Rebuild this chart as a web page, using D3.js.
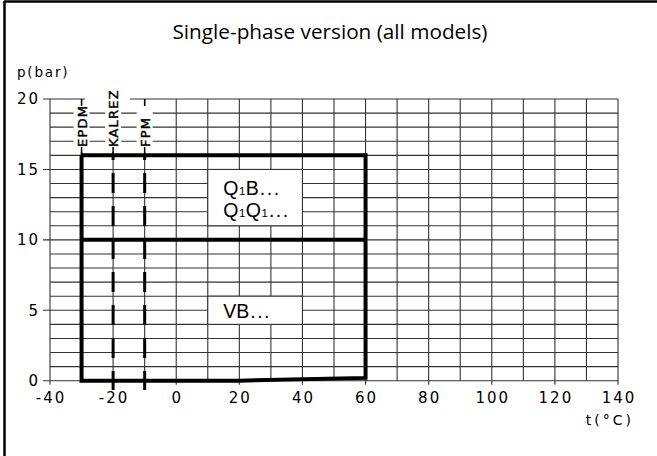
<!DOCTYPE html>
<html>
<head>
<meta charset="utf-8">
<script src="https://cdn.jsdelivr.net/npm/d3@7"></script>
<style>
  body { margin: 0; background: #fff; }
  svg { display: block; }
</style>
</head>
<body>
<svg id="chart" width="657" height="456"></svg>
<script>
// temperature / pressure ticks
var xTicks = [-40, -20, 0, 20, 40, 60, 80, 100, 120, 140];
var yTicks = [0, 5, 10, 15, 20];
var xGrid = d3.range(-40, 141, 10);
var yGrid = d3.range(0, 21, 1);

// operating envelope (t in degC, p in bar)
var envelope = [
  {t: -30, p: 16}, {t: 60, p: 16}, {t: 60, p: 0.2},
  {t: 20, p: 0}, {t: -30, p: 0}, {t: -30, p: 16}
];
var midLine = [{t: -30, p: 10}, {t: 60, p: 10}];

// seal materials and their min temperature
var materials = ["EPDM", "KALREZ", "FPM"];
var matTemp = [-30, -20, -10];

// model label boxes
var boxes = [
  {t0: 10, t1: 40, p0: 11, p1: 15, lines: [["Q", "1", "B"], ["Q", "1", "Q", "1"]]},
  {t0: 10, t1: 40, p0: 4, p1: 6, lines: [["VB"]]}
];

var svg = d3.select("#chart");
var x = d3.scaleLinear().domain([-40, 140]).range([50, 618]);
var y = d3.scaleLinear().domain([0, 20]).range([380.7, 99]);

// frame (left + top)
svg.append("line").attr("x1", 4.5).attr("x2", 4.5).attr("y1", 1).attr("y2", 456)
  .attr("stroke", "#000").attr("stroke-width", 2.5);
svg.append("line").attr("x1", 4).attr("x2", 657).attr("y1", 1.5).attr("y2", 1.5)
  .attr("stroke", "#000").attr("stroke-width", 2.5);

svg.append("text").attr("x", 330).attr("y", 39).attr("text-anchor", "middle")
  .style("font-family", "Open Sans").style("font-size", "19.5px")
  .attr("textLength", 315).attr("lengthAdjust", "spacingAndGlyphs")
  .text("Single-phase version (all models)");

// grid
var grid = svg.append("g").attr("stroke", "#333").attr("stroke-width", 1.1);
grid.selectAll("line.h").data(yGrid).enter().append("line")
  .attr("x1", function (d) { return d % 5 == 0 ? x(-40) - 7 : x(-40); })
  .attr("x2", x(140))
  .attr("y1", function (d) { return y(d); })
  .attr("y2", function (d) { return y(d); });
grid.selectAll("line.v").data(xGrid).enter().append("line")
  .attr("x1", function (d) { return x(d); })
  .attr("x2", function (d) { return x(d); })
  .attr("y1", y(20))
  .attr("y2", function (d) { return d % 20 == 0 ? y(0) + 4 : y(0); });

// axis labels
var axisFont = "DejaVu Sans";
svg.append("g").selectAll("text").data(xTicks).enter().append("text")
  .attr("x", function (d) { return x(d) + 1; })
  .attr("y", 403)
  .attr("text-anchor", "middle")
  .style("font-family", axisFont).style("font-size", "15px").style("letter-spacing", "2px")
  .text(function (d) { return d; });
svg.append("g").selectAll("text").data(yTicks).enter().append("text")
  .attr("x", 40)
  .attr("y", function (d) { return y(d); })
  .attr("dy", "0.36em")
  .attr("text-anchor", "end")
  .style("font-family", axisFont).style("font-size", "15px").style("letter-spacing", "2px")
  .text(function (d) { return d; });
svg.append("text").attr("x", 17).attr("y", 77)
  .style("font-family", axisFont).style("font-size", "13.5px").style("letter-spacing", "1.8px")
  .text("p(bar)");
svg.append("text").attr("x", 634).attr("y", 425).attr("text-anchor", "end")
  .style("font-family", axisFont).style("font-size", "14px").style("letter-spacing", "3px")
  .text("t(°C)");

// material markers
var mat = svg.append("g");
mat.selectAll("line.stub").data(matTemp).enter().append("line")
  .attr("x1", function (d) { return x(d); }).attr("x2", function (d) { return x(d); })
  .attr("y1", y(20)).attr("y2", y(16))
  .attr("stroke", "#000").attr("stroke-width", 1.5);
mat.append("rect")
  .attr("x", x(-28.9)).attr("width", x(-14.7) - x(-28.9))
  .attr("y", y(20) - 4).attr("height", 8).attr("fill", "#fff");
mat.selectAll("rect.bg").data(matTemp).enter().append("rect")
  .attr("x", function (d) { return x(d) - 8; }).attr("width", 16)
  .attr("y", function (d, i) { return i == 1 ? 82 : 106; })
  .attr("height", function (d, i) { return y(16) - 3 - (i == 1 ? 82 : 106); })
  .attr("fill", "#fff");
mat.selectAll("line.stub2").data(matTemp).enter().append("line")
  .attr("x1", function (d) { return x(d); }).attr("x2", function (d) { return x(d); })
  .attr("y1", 147).attr("y2", y(16))
  .attr("stroke", "#000").attr("stroke-width", 1.5);
mat.selectAll("text").data(materials).enter().append("text")
  .attr("transform", function (d, i) { return "translate(" + (x(matTemp[i]) + 0.5) + ",147) rotate(-90)"; })
  .attr("dy", "0.36em")
  .style("font-family", axisFont).style("font-size", "13px").style("letter-spacing", "1.2px")
  .style("stroke", "#000").style("stroke-width", 0.4)
  .text(function (d) { return d; });

// dashed material limits
svg.selectAll("line.dash").data(matTemp.slice(1)).enter().append("line")
  .attr("x1", function (d) { return x(d); }).attr("x2", function (d) { return x(d); })
  .attr("y1", y(16)).attr("y2", 390)
  .attr("stroke", "#000").attr("stroke-width", 3)
  .attr("stroke-dasharray", "20 13")
  .attr("stroke-dashoffset", -(173 - y(16)) + 33);

// envelope
var line = d3.line().x(function (d) { return x(d.t); }).y(function (d) { return y(d.p); });
svg.append("path").datum(envelope).attr("d", line)
  .attr("fill", "none").attr("stroke", "#000").attr("stroke-width", 4)
  .attr("stroke-linejoin", "miter");
svg.append("path").datum(midLine).attr("d", line)
  .attr("fill", "none").attr("stroke", "#000").attr("stroke-width", 4);

// label boxes
var bx = svg.selectAll("g.box").data(boxes).enter().append("g");
bx.append("rect")
  .attr("x", function (d) { return x(d.t0); })
  .attr("y", function (d) { return y(d.p1); })
  .attr("width", function (d) { return x(d.t1) - x(d.t0); })
  .attr("height", function (d) { return y(d.p0) - y(d.p1); })
  .attr("fill", "#fff").attr("stroke", "#333").attr("stroke-width", 1.1);
bx.each(function (d) {
  var g = d3.select(this);
  var n = d.lines.length;
  d.lines.forEach(function (parts, li) {
    var t = g.append("text")
      .attr("x", x(d.t0) + 15)
      .attr("y", n == 1 ? y(d.p0) - 6 : y(d.p1) + 25.5 + li * 22.5)
      .style("font-family", "Liberation Sans").style("font-size", "19.5px");
    parts.forEach(function (s) {
      if (s == "1") {
        t.append("tspan").attr("dx", 0.5).style("font-size", "11.5px").text("1");
      } else {
        t.append("tspan").attr("dx", 0.5).text(s);
      }
    });
    t.append("tspan").attr("dx", 1).style("letter-spacing", "1.5px").text("...");
  });
});
</script>
</body>
</html>
